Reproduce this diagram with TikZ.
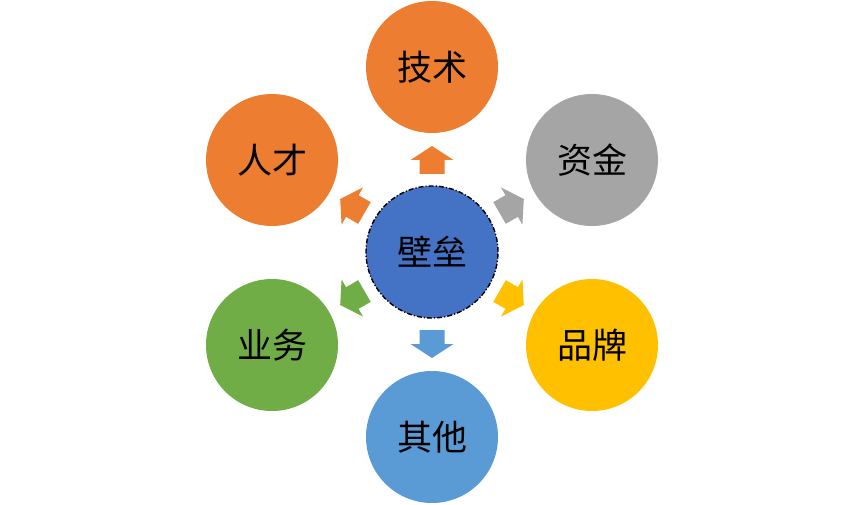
\documentclass[tikz,border=0pt]{standalone}
\usepackage{fontspec}
\setmainfont{Noto Sans CJK SC}
\definecolor{corange}{HTML}{ED7D31}
\definecolor{cgray}{HTML}{A5A5A5}
\definecolor{cgold}{HTML}{FFC000}
\definecolor{cblue}{HTML}{5B9BD5}
\definecolor{cgreen}{HTML}{70AD47}
\definecolor{ccenter}{HTML}{4472C4}
\tikzset{
  bubble/.style={circle, minimum size=132pt, inner sep=0pt, font=\fontsize{35}{40}\selectfont, text=black},
}
\newcommand{\blkarrow}[2]{%
  \begin{scope}[shift={(center.center)}, rotate=#1]
    \fill[#2] (78pt,-12.5pt) -- (92pt,-12.5pt) -- (92pt,-21.5pt) -- (106pt,0pt) -- (92pt,21.5pt) -- (92pt,12.5pt) -- (78pt,12.5pt) -- cycle;
  \end{scope}}
\begin{document}
\begin{tikzpicture}[x=1pt,y=-1pt]
\useasboundingbox (0,0) rectangle (865,505);
\node[bubble, fill=ccenter, draw=black, dash pattern=on 5pt off 2pt on 1.2pt off 2pt, line width=1.4pt] (center) at (432,252) {壁垒};
\node[bubble, fill=corange] (jishu) at (432,67) {技术};
\node[bubble, fill=cgray] (zijin) at (592,160) {资金};
\node[bubble, fill=cgold] (pinpai) at (592,345) {品牌};
\node[bubble, fill=cblue] (qita) at (432,437) {其他};
\node[bubble, fill=cgreen] (yewu) at (272,345) {业务};
\node[bubble, fill=corange] (rencai) at (272,160) {人才};
\blkarrow{90}{corange}
\blkarrow{30}{cgray}
\blkarrow{-30}{cgold}
\blkarrow{-90}{cblue}
\blkarrow{210}{cgreen}
\blkarrow{150}{corange}
\end{tikzpicture}
\end{document}
